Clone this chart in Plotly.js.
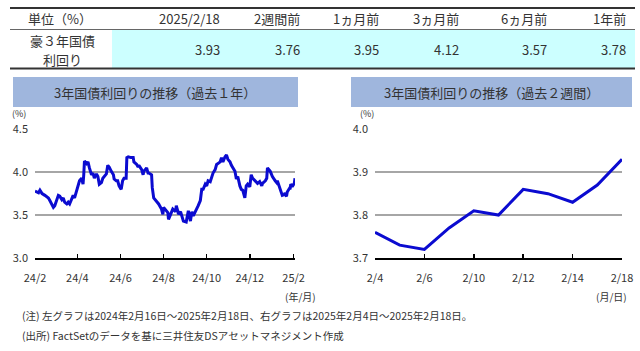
<!DOCTYPE html>
<html><head><meta charset="utf-8">
<script src="https://cdn.plot.ly/plotly-3.0.1.min.js"></script>
<style>html,body{margin:0;padding:0;background:#fff}#c{width:640px;height:351px}</style>
</head><body><div id="c"></div>
<script>
// ---- data ----
var tableHeaders = ["2025/2/18", "2週間前", "1ヵ月前", "3ヵ月前", "6ヵ月前", "1年前"];
var tableValues = ["3.93", "3.76", "3.95", "4.12", "3.57", "3.78"];

var yearDates = ["2024-02-16","2024-02-21","2024-02-23","2024-02-26","2024-03-01","2024-03-06","2024-03-08","2024-03-11","2024-03-13","2024-03-15",
"2024-03-18","2024-03-20","2024-03-22","2024-03-25","2024-03-27","2024-03-29","2024-04-01","2024-04-03","2024-04-05","2024-04-08",
"2024-04-10","2024-04-12","2024-04-15","2024-04-17","2024-04-19","2024-04-22","2024-04-24","2024-04-25","2024-04-26","2024-04-29",
"2024-05-01","2024-05-03","2024-05-06","2024-05-08","2024-05-10","2024-05-13","2024-05-15","2024-05-17","2024-05-20","2024-05-22",
"2024-05-24","2024-05-27","2024-05-29","2024-05-31","2024-06-03","2024-06-06","2024-06-07","2024-06-10","2024-06-12","2024-06-14",
"2024-06-17","2024-06-19","2024-06-21","2024-06-24","2024-06-25","2024-06-27","2024-07-01","2024-07-04","2024-07-05","2024-07-09",
"2024-07-11","2024-07-12","2024-07-16","2024-07-18","2024-07-19","2024-07-23","2024-07-25","2024-07-26","2024-07-30","2024-07-31",
"2024-08-02","2024-08-05","2024-08-08","2024-08-09","2024-08-13","2024-08-15","2024-08-16","2024-08-20","2024-08-22","2024-08-23",
"2024-08-27","2024-08-29","2024-09-02","2024-09-03","2024-09-05","2024-09-06","2024-09-09","2024-09-11","2024-09-13","2024-09-17",
"2024-09-19","2024-09-20","2024-09-23","2024-09-25","2024-09-27","2024-10-02","2024-10-04","2024-10-07","2024-10-09","2024-10-11",
"2024-10-14","2024-10-16","2024-10-18","2024-10-21","2024-10-23","2024-10-25","2024-10-28","2024-10-30","2024-11-01","2024-11-04",
"2024-11-06","2024-11-08","2024-11-11","2024-11-13","2024-11-15","2024-11-18","2024-11-20","2024-11-22","2024-11-25","2024-11-27",
"2024-11-29","2024-12-02","2024-12-04","2024-12-06","2024-12-09","2024-12-11","2024-12-13","2024-12-16","2024-12-18","2024-12-20",
"2024-12-23","2024-12-24","2024-12-27","2024-12-30","2025-01-02","2025-01-03","2025-01-07","2025-01-09","2025-01-10","2025-01-14",
"2025-01-16","2025-01-17","2025-01-21","2025-01-23","2025-01-24","2025-01-28","2025-01-30","2025-01-31","2025-02-03","2025-02-04",
"2025-02-05","2025-02-06","2025-02-07","2025-02-10","2025-02-11","2025-02-12","2025-02-13","2025-02-14","2025-02-17","2025-02-18"];
var yearValues = [3.78,3.76,3.79,3.75,3.73,3.70,3.67,3.62,3.59,3.61,
3.68,3.73,3.72,3.68,3.70,3.65,3.63,3.65,3.63,3.68,
3.73,3.70,3.78,3.86,3.90,3.93,3.86,3.97,4.13,4.10,
4.12,4.05,3.97,3.99,3.93,3.98,3.95,3.86,3.88,3.93,
3.95,3.98,4.08,4.06,4.01,3.97,3.92,3.90,3.90,3.84,
3.80,3.90,3.93,3.93,4.17,4.18,4.17,4.17,4.12,4.09,
4.06,4.08,4.03,3.97,4.01,4.05,3.99,3.99,3.97,3.82,
3.70,3.67,3.65,3.63,3.57,3.51,3.59,3.54,3.53,3.45,
3.53,3.57,3.54,3.61,3.55,3.51,3.54,3.48,3.43,3.42,
3.49,3.55,3.43,3.54,3.49,3.57,3.61,3.67,3.80,3.80,
3.86,3.84,3.90,3.89,3.95,3.99,4.03,4.09,4.10,4.12,
4.17,4.12,4.18,4.20,4.15,4.12,4.08,4.05,4.01,3.92,
3.95,3.84,3.80,3.79,3.70,3.84,3.86,3.83,3.97,3.93,
3.90,3.90,3.87,3.89,3.84,3.87,3.90,3.93,4.05,4.01,
3.95,3.95,3.90,3.88,3.90,3.80,3.77,3.73,3.74,3.76,
3.73,3.72,3.77,3.81,3.80,3.86,3.85,3.83,3.87,3.93];

var weekDays = ["2/4","2/5","2/6","2/7","2/10","2/11","2/12","2/13","2/14","2/17","2/18"];
var weekValues = [3.76,3.73,3.72,3.77,3.81,3.80,3.86,3.85,3.83,3.87,3.93];

var yearTickVals = ["2024-02-16","2024-04-16","2024-06-16","2024-08-16","2024-10-16","2024-12-16","2025-02-16"];
var yearTickText = ["24/2","24/4","24/6","24/8","24/10","24/12","25/2"];
var weekTickVals = ["2/4","2/6","2/10","2/12","2/14","2/18"];

// ---- layout helpers (paper coords from pixels) ----
var W = 640, H = 351;
function px(x){ return x / W; }
function py(y){ return 1 - y / H; }
var FONT = "Noto Sans CJK JP, Noto Sans, sans-serif";
var TXT = "#333333";
var LINE = "#0b0bd0";

var annotations = [];
function label(text, x, y, size, anchor){
  annotations.push({text: text, x: px(x), y: py(y), xref: "paper", yref: "paper",
    xanchor: anchor || "left", yanchor: "middle", showarrow: false,
    font: {family: FONT, size: size, color: TXT}});
}

// table
label("単位（%）", 26, 19, 13, "left");
var colRight = [222, 302, 381, 461, 549, 628];
for (var i = 0; i < tableHeaders.length; i++) {
  label(tableHeaders[i], colRight[i], 19, 13, "right");
  label(tableValues[i], colRight[i], 49, 13, "right");
}
label("豪３年国債", 62, 40, 13, "center");
label("利回り", 62, 59, 13, "center");

// chart titles
label("3年国債利回りの推移（過去１年）", 155, 92, 13, "center");
label("3年国債利回りの推移（過去２週間）", 491, 92, 13, "center");
label("(%)", 19, 113, 9, "center");
label("(%)", 367, 113, 9, "center");
label("(年/月)", 300, 296, 10, "center");
label("(月/日)", 611, 296, 10, "center");

// footnotes
label("(注) 左グラフは2024年2月16日～2025年2月18日、右グラフは2025年2月4日～2025年2月18日。", 20, 315, 10.5, "left");
label("(出所) FactSetのデータを基に三井住友DSアセットマネジメント作成", 20, 335, 10.5, "left");

var shapes = [
  {type: "rect", xref: "paper", yref: "paper", x0: px(112), x1: px(635), y0: py(30), y1: py(68), fillcolor: "#ccffff", line: {width: 0}, layer: "below"},
  {type: "line", xref: "paper", yref: "paper", x0: px(10), x1: px(635), y0: py(8), y1: py(8), line: {color: "#333", width: 2}},
  {type: "line", xref: "paper", yref: "paper", x0: px(10), x1: px(635), y0: py(29.5), y1: py(29.5), line: {color: "#666", width: 1}},
  {type: "line", xref: "paper", yref: "paper", x0: px(10), x1: px(635), y0: py(68.5), y1: py(68.5), line: {color: "#333", width: 2}},
  {type: "rect", xref: "paper", yref: "paper", x0: px(13), x1: px(298), y0: py(107), y1: py(77), fillcolor: "#9fb6dd", line: {width: 0}, layer: "below"},
  {type: "rect", xref: "paper", yref: "paper", x0: px(351), x1: px(632), y0: py(107), y1: py(77), fillcolor: "#9fb6dd", line: {width: 0}, layer: "below"}
];

var yDom = [py(258), py(129.3)];
var tickFont = {family: FONT, size: 11, color: TXT};

var traces = [
  {x: yearDates, y: yearValues, type: "scatter", mode: "lines", xaxis: "x", yaxis: "y",
   line: {color: LINE, width: 3}, hoverinfo: "skip"},
  {x: weekDays, y: weekValues, type: "scatter", mode: "lines", xaxis: "x2", yaxis: "y2",
   line: {color: LINE, width: 3}, hoverinfo: "skip"}
];

var layout = {
  width: W, height: H, margin: {l: 0, r: 0, t: 0, b: 0},
  paper_bgcolor: "#fff", plot_bgcolor: "rgba(0,0,0,0)", showlegend: false,
  font: {family: FONT, color: TXT},
  xaxis: {type: "date", domain: [px(35), px(295)], range: ["2024-02-16", "2025-02-18"], anchor: "y",
    tickvals: yearTickVals, ticktext: yearTickText, ticks: "inside", ticklen: 4, tickwidth: 1.5, tickcolor: "#000",
    showline: true, linecolor: "#000", linewidth: 1.5, showgrid: false, zeroline: false,
    tickfont: tickFont, ticklabelstandoff: 9},
  yaxis: {domain: yDom, range: [3.0, 4.5], dtick: 0.5, tick0: 3.0, tickformat: ".1f", anchor: "x",
    showgrid: true, gridcolor: "#a6a6a6", gridwidth: 1.5, showline: false, zeroline: false, ticks: "",
    tickfont: tickFont, ticklabelstandoff: 6},
  xaxis2: {type: "category", domain: [px(375), px(622)], range: [0, 10], anchor: "y2",
    categoryorder: "array", categoryarray: weekDays,
    tickvals: weekTickVals, ticktext: weekTickVals, ticks: "inside", ticklen: 4, tickwidth: 1.5, tickcolor: "#000",
    showline: true, linecolor: "#000", linewidth: 1.5, showgrid: false, zeroline: false,
    tickfont: tickFont, ticklabelstandoff: 9},
  yaxis2: {domain: yDom, range: [3.7, 4.0], dtick: 0.1, tick0: 3.7, tickformat: ".1f", anchor: "x2",
    showgrid: true, gridcolor: "#a6a6a6", gridwidth: 1.5, showline: false, zeroline: false, ticks: "",
    tickfont: tickFont, ticklabelstandoff: 6},
  shapes: shapes,
  annotations: annotations
};

Plotly.newPlot("c", traces, layout, {staticPlot: true, displayModeBar: false});
</script>
</body></html>
